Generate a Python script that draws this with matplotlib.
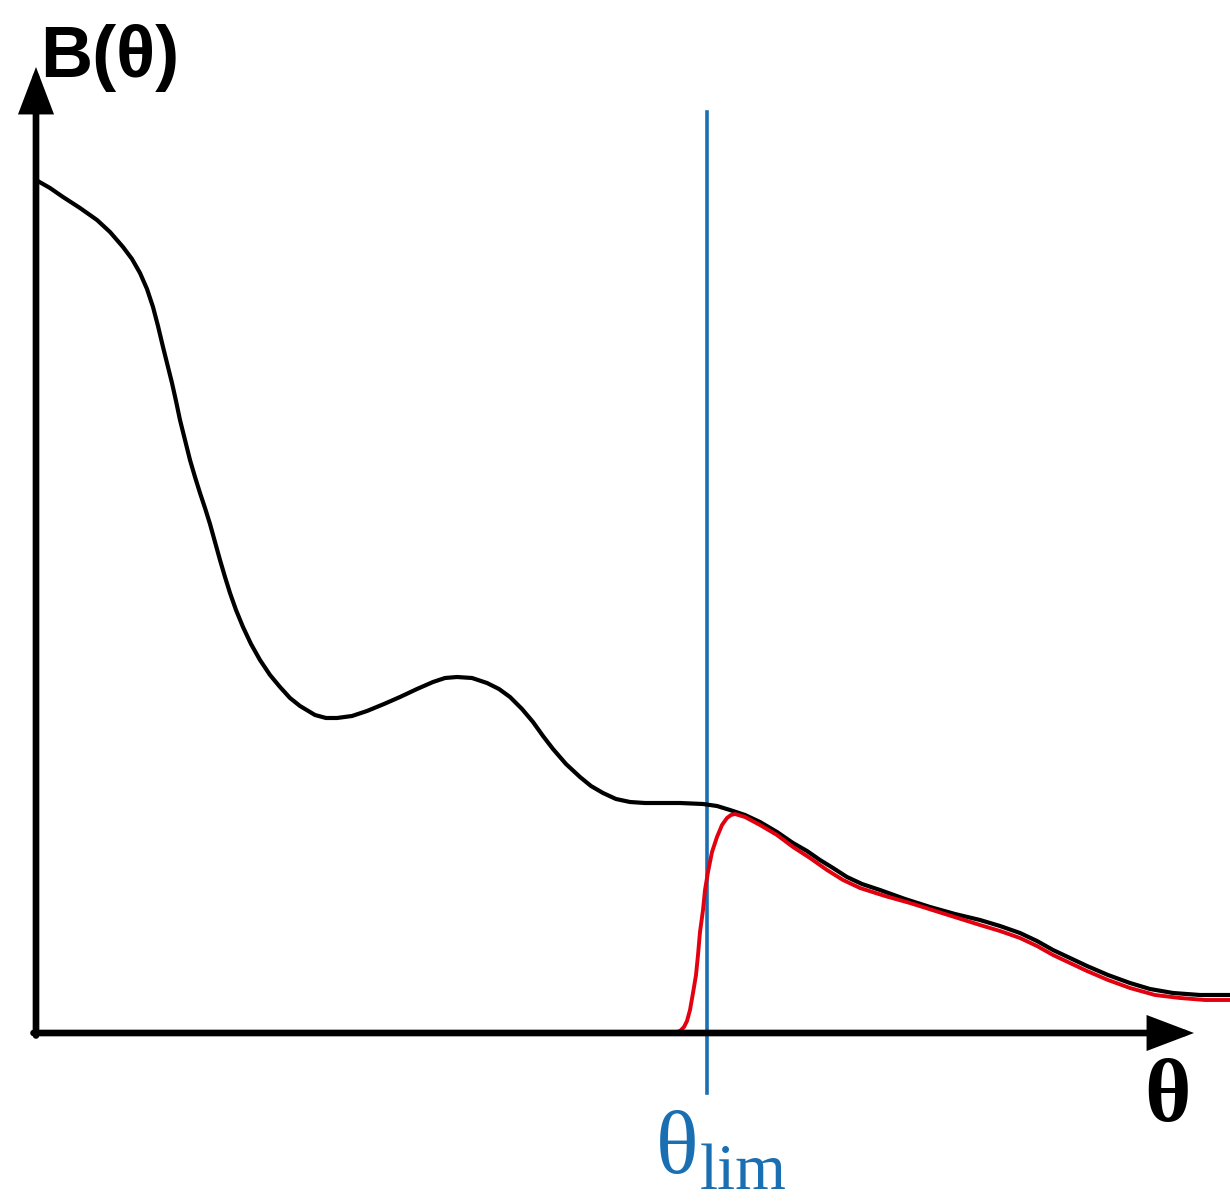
import matplotlib
matplotlib.use("Agg")
import matplotlib.pyplot as plt

# Black curve B(theta) (theta, B in arbitrary units)
theta_black = [0, 14, 27, 44, 61, 74, 87, 96, 104, 111, 117, 122, 127, 131, 136, 140, 144, 149,
               154, 159, 164, 169, 174, 179, 184, 189, 194, 200, 207, 215, 224, 234, 244, 254,
               264, 279, 290,
               301, 316, 331, 348, 364, 381, 397, 409, 421, 436, 451, 463, 474, 486, 497, 507,
               517, 530, 544, 555, 567, 580, 594, 609, 624, 644, 667, 681, 694, 709, 724, 741,
               757, 771, 784, 797, 811, 826, 844, 869, 894, 919, 944, 964, 984, 1001, 1017,
               1034, 1051, 1072, 1094, 1114, 1137, 1164, 1194]
B_black = [853, 845, 836, 825, 813, 801, 786, 774, 760, 744, 726, 707, 686, 670, 650, 632, 613,
           593, 573, 556, 540, 525, 509, 491, 473, 456, 440, 423, 406, 389, 373, 358, 346, 335,
           327, 318, 315,
           315, 317, 322, 329, 336, 344, 351, 355, 356, 355, 350, 344, 336, 324, 311, 297,
           284, 269, 256, 247, 240, 234, 231, 230, 230, 230, 229, 227, 223, 218, 211, 201,
           190, 182, 173, 165, 156, 149, 143, 134, 126, 119, 113, 107, 100, 92, 83,
           75, 67, 58, 50, 44, 40, 38, 38]

# Red curve (model above theta_lim)
theta_red = [638, 644, 648, 651, 654, 657, 660, 662, 664, 667, 669, 672, 676, 681, 686, 691,
             695, 699, 709, 724, 741, 757, 774, 791, 807, 824, 849, 874, 909, 944, 964, 984,
             1001, 1017, 1034, 1051, 1072, 1094, 1119, 1144, 1169, 1194]
B_red = [0, 2, 6, 12, 23, 40, 58, 78, 101, 123, 143, 161, 181, 196, 208, 215, 218, 219, 216,
         208, 198, 186, 175, 163, 153, 145, 137, 130, 119, 108, 102, 95, 87, 78, 70, 62, 53,
         45, 38, 35, 33, 33]

theta_lim = 671
line_top = 921
line_bottom = -60

fig = plt.figure(figsize=(12.3, 12.02), dpi=100)
ax = fig.add_axes([0, 0, 1, 1])
ax.set_xlim(-36, 1194)
ax.set_ylim(-169, 1033)
ax.axis("off")

blue = "#1a6fb3"
ax.plot([theta_lim, theta_lim], [line_bottom, line_top], color=blue, lw=2.6, zorder=2)
ax.plot(theta_black, B_black, color="black", lw=3.0, solid_capstyle="round",
        solid_joinstyle="round", zorder=3)
ax.plot(theta_red, B_red, color="#e3000f", lw=2.8, solid_capstyle="round",
        solid_joinstyle="round", zorder=4)

arrow = dict(arrowstyle="-|>,head_length=2.5,head_width=0.95", lw=4.8, color="black",
             mutation_scale=10, shrinkA=0, shrinkB=0, joinstyle="miter")
ax.annotate("", xy=(1158, 0), xytext=(-2.5, 0), arrowprops=arrow, zorder=5)
ax.annotate("", xy=(0, 966), xytext=(0, -2.5), arrowprops=arrow, zorder=5)

ax.text(4, 956, "B(θ)", fontsize=52, fontweight="bold",
        family=["Liberation Sans Narrow", "Liberation Sans", "DejaVu Sans"],
        ha="left", va="baseline", color="black")
ax.text(1131, -88, "θ", fontsize=64, fontweight="bold", family=["Liberation Serif"],
        ha="center", va="baseline", color="black")
ax.text(641, -140, "θ", fontsize=64, family=["Liberation Serif"], ha="center", va="baseline",
        color=blue)
ax.text(664, -156, "lim", fontsize=47, family=["Liberation Serif"], ha="left", va="baseline",
        color=blue)

fig.savefig("out.png", dpi=100)
